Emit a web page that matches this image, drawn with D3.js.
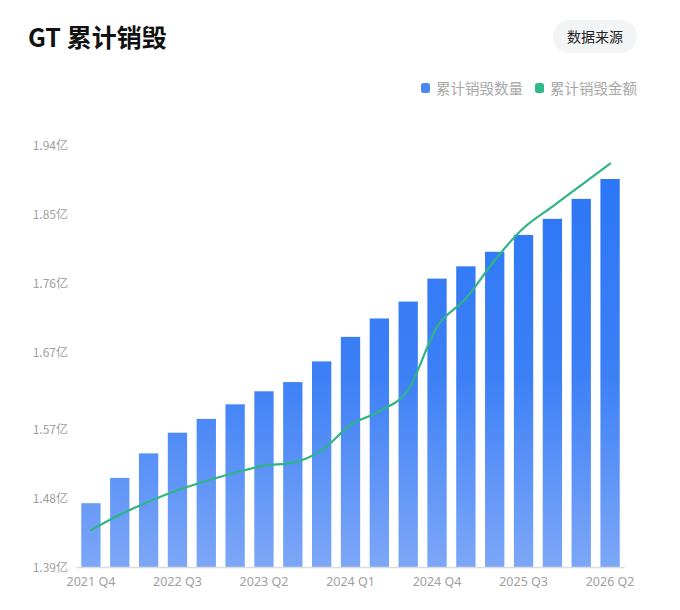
<!DOCTYPE html>
<html>
<head>
<meta charset="utf-8">
<script src="https://cdn.jsdelivr.net/npm/d3@7"></script>
<style>
  html, body { margin: 0; padding: 0; background: #fff; }
  svg { display: block; font-family: "Noto Sans CJK SC", "Noto Sans", sans-serif; }
</style>
</head>
<body>
<svg id="chart" width="680" height="610"></svg>
<script>
// quarters shown on the x axis
const quarters = [
  '2021 Q4', '2022 Q1', '2022 Q2', '2022 Q3', '2022 Q4',
  '2023 Q1', '2023 Q2', '2023 Q3', '2023 Q4',
  '2024 Q1', '2024 Q2', '2024 Q3', '2024 Q4',
  '2025 Q1', '2025 Q2', '2025 Q3', '2025 Q4',
  '2026 Q1', '2026 Q2'
]

// cumulative burned quantity (亿)
const burnedCount = [
  1.474, 1.507, 1.539, 1.566, 1.584, 1.603, 1.620, 1.632, 1.659, 1.691,
  1.715, 1.737, 1.767, 1.783, 1.802, 1.824, 1.845, 1.871, 1.897
]

// cumulative burned amount, drawn on the same visual scale
const burnedValue = [
  1.439, 1.459, 1.476, 1.491, 1.503, 1.514, 1.523, 1.527, 1.543, 1.576,
  1.594, 1.622, 1.704, 1.741, 1.791, 1.833, 1.861, 1.889, 1.917
]

const yTicks = [1.39, 1.48, 1.57, 1.67, 1.76, 1.85, 1.94]
const xTickLabels = ['2021 Q4', '2022 Q3', '2023 Q2', '2024 Q1', '2024 Q4', '2025 Q3', '2026 Q2']

const legendItems = [
  { name: '累计销毁数量', color: '#4a85f2' },
  { name: '累计销毁金额', color: '#2ebb86' }
]

const svg = d3.select('#chart')

// header
svg.append('text')
  .attr('x', 28).attr('y', 46.5)
  .attr('font-size', 25).attr('font-weight', 700)
  .attr('fill', '#111')
  .text('GT 累计销毁')

svg.append('rect')
  .attr('x', 553).attr('y', 20).attr('width', 84).attr('height', 33)
  .attr('rx', 16.5)
  .attr('fill', '#f3f4f6')
svg.append('text')
  .attr('x', 595).attr('y', 41.5)
  .attr('text-anchor', 'middle')
  .attr('font-size', 14).attr('fill', '#222')
  .text('数据来源')

// legend
const legend = svg.append('g').attr('transform', 'translate(421, 88)')
let lx = 0
legendItems.forEach(item => {
  const g = legend.append('g').attr('transform', `translate(${lx}, 0)`)
  g.append('rect')
    .attr('x', 0).attr('y', -5).attr('width', 9).attr('height', 10)
    .attr('rx', 2.5)
    .attr('fill', item.color)
  g.append('text')
    .attr('x', 15).attr('y', 5.5)
    .attr('font-size', 14.5).attr('fill', '#a8a8a8')
    .text(item.name)
  lx += 114
})

// scales
const x = d3.scaleBand()
  .domain(quarters)
  .range([76.5, 624.5])
  .paddingInner(0.33)
  .paddingOuter(0.165)

const y = d3.scaleLinear()
  .domain([1.39, 1.94])
  .range([567.6, 146])

// bar gradient
const defs = svg.append('defs')
const grad = defs.append('linearGradient')
  .attr('id', 'barGrad')
  .attr('gradientUnits', 'userSpaceOnUse')
  .attr('x1', 0).attr('x2', 0)
  .attr('y1', y(1.94)).attr('y2', y(1.39))
grad.append('stop').attr('offset', '0%').attr('stop-color', '#2a75f6')
grad.append('stop').attr('offset', '55%').attr('stop-color', '#3d80f6')
grad.append('stop').attr('offset', '100%').attr('stop-color', '#7da7f7')

// y axis labels
svg.append('g')
  .attr('transform', 'translate(68, 0)')
  .call(d3.axisLeft(y).tickValues(yTicks).tickSize(0).tickPadding(0)
    .tickFormat(d => d3.format('.2f')(d) + '亿'))
  .call(g => g.select('.domain').remove())
  .call(g => g.selectAll('text')
    .attr('font-size', 12).attr('fill', '#a0a0a0')
    .attr('font-family', '"Noto Sans CJK SC", "Noto Sans", sans-serif'))

// bars
svg.append('g')
  .selectAll('rect')
  .data(burnedCount)
  .join('rect')
  .attr('x', (d, i) => x(quarters[i]))
  .attr('y', d => y(d))
  .attr('width', x.bandwidth())
  .attr('height', d => y(1.39) - y(d))
  .attr('fill', 'url(#barGrad)')

// x axis
svg.append('g')
  .attr('transform', `translate(0, ${y(1.39)})`)
  .call(d3.axisBottom(x).tickValues(xTickLabels).tickSize(0).tickPadding(10))
  .call(g => g.select('.domain').attr('stroke', '#dcdcdc').attr('stroke-width', 1.5)
    .attr('d', `M${x.range()[0]},0H${x.range()[1]}`))
  .call(g => g.selectAll('text')
    .attr('font-size', 12.5).attr('fill', '#a0a0a0')
    .attr('font-family', '"Noto Sans", "Noto Sans CJK SC", sans-serif'))

// amount line
const line = d3.line()
  .x((d, i) => x(quarters[i]) + x.bandwidth() / 2)
  .y(d => y(d))
  .curve(d3.curveMonotoneX)

svg.append('path')
  .datum(burnedValue)
  .attr('d', line)
  .attr('fill', 'none')
  .attr('stroke', '#2fb585')
  .attr('stroke-width', 2.2)
  .attr('stroke-linecap', 'round')
</script>
</body>
</html>
